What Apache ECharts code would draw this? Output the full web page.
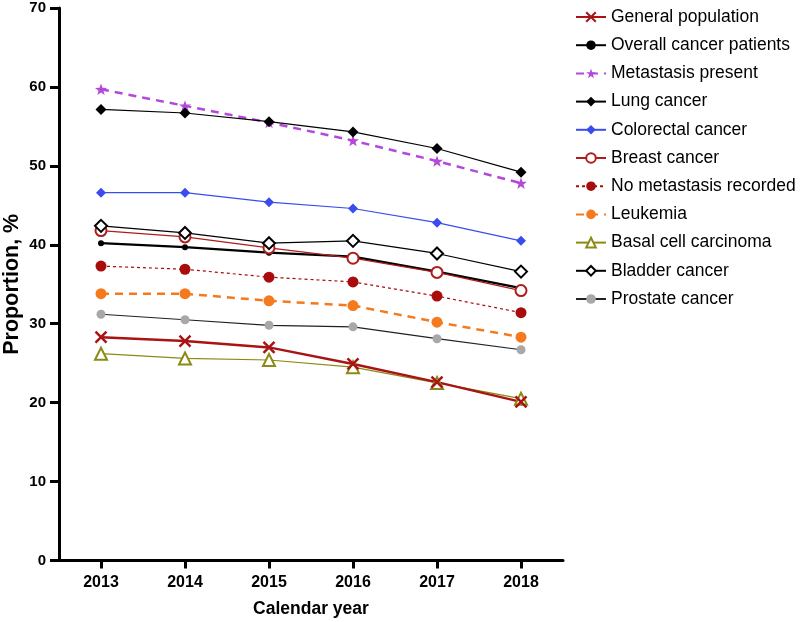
<!DOCTYPE html>
<html>
<head>
<meta charset="utf-8">
<script src="https://cdn.jsdelivr.net/npm/echarts@6/dist/echarts.min.js"></script>
<style>
  html, body { margin: 0; padding: 0; background: #fff; }
  #chart { width: 800px; height: 622px; }
</style>
</head>
<body>
<div id="chart"></div>
<script>
// years on the x axis
const years = ['2013', '2014', '2015', '2016', '2017', '2018']
const yTicks = [0, 10, 20, 30, 40, 50, 60, 70]

// proportions, %
const generalPopulation = [28.3, 27.8, 27.0, 24.9, 22.6, 20.1]
const overallCancer = [40.2, 39.7, 39.0, 38.5, 36.6, 34.5]
const metastasisPresent = [59.7, 57.6, 55.5, 53.2, 50.6, 47.8]
const lungCancer = [57.15, 56.7, 55.6, 54.3, 52.2, 49.2]
const colorectalCancer = [46.6, 46.6, 45.4, 44.6, 42.8, 40.5]
const breastCancer = [41.8, 41.0, 39.6, 38.3, 36.5, 34.2]
const noMetastasis = [37.3, 36.9, 35.9, 35.3, 33.5, 31.4]
const leukemia = [33.8, 33.8, 32.9, 32.3, 30.2, 28.3]
const basalCell = [26.2, 25.6, 25.4, 24.5, 22.5, 20.5]
const bladderCancer = [42.4, 41.5, 40.2, 40.5, 38.9, 36.6]
const prostateCancer = [31.2, 30.5, 29.8, 29.6, 28.1, 26.7]

const crossPath = 'path://M0,0L10,10M10,0L0,10'
const starPath = 'path://M5,0L6.18,3.38L9.76,3.45L6.9,5.62L7.94,9.05L5,7L2.06,9.05L3.1,5.62L0.24,3.45L3.82,3.38Z'

function line(name, vals, opt) {
  return Object.assign({
    name: name,
    type: 'line',
    data: vals,
    animation: false,
    symbolKeepAspect: true
  }, opt)
}

const chart = echarts.init(document.getElementById('chart'))

const option = {
  backgroundColor: '#fff',
  grid: { left: 59, right: 237, top: 8, bottom: 61.5, outerBoundsMode: 'none', containLabel: false },
  legend: {
    orient: 'vertical',
    left: 570,
    top: 3,
    itemWidth: 30,
    itemHeight: 12,
    itemGap: 10.2,
    textStyle: { fontFamily: 'Liberation Sans, Arial', fontSize: 17.5, color: '#000' },
    data: ['General population', 'Overall cancer patients', 'Metastasis present', 'Lung cancer',
      'Colorectal cancer', 'Breast cancer', 'No metastasis recorded', 'Leukemia',
      'Basal cell carcinoma', 'Bladder cancer', 'Prostate cancer']
  },
  xAxis: {
    type: 'category',
    data: years,
    boundaryGap: true,
    name: 'Calendar year',
    nameLocation: 'middle',
    nameGap: 40,
    nameTextStyle: { fontFamily: 'Liberation Sans, Arial', fontSize: 17.5, fontWeight: 'bold', color: '#000' },
    axisLine: { lineStyle: { color: '#000', width: 3 } },
    axisTick: { show: true, alignWithLabel: true, length: 8, lineStyle: { color: '#000', width: 3 } },
    axisLabel: {
      margin: 14,
      fontFamily: 'Liberation Sans, Arial', fontSize: 16, fontWeight: 'bold', color: '#000'
    },
    splitLine: { show: false }
  },
  yAxis: {
    type: 'value',
    min: yTicks[0],
    max: yTicks[yTicks.length - 1],
    interval: 10,
    name: 'Proportion, %',
    nameLocation: 'middle',
    nameGap: 36,
    nameMoveOverlap: false,
    nameTextStyle: { fontFamily: 'Liberation Sans, Arial', fontSize: 21.5, fontWeight: 'bold', color: '#000' },
    axisLine: { show: true, lineStyle: { color: '#000', width: 3 } },
    axisTick: { show: true, length: 9, lineStyle: { color: '#000', width: 3 } },
    axisLabel: { margin: 13, fontFamily: 'Liberation Sans, Arial', fontSize: 15, fontWeight: 'bold', color: '#000' },
    splitLine: { show: false }
  },
  series: [
    line('Basal cell carcinoma', basalCell, {
      symbol: 'emptyTriangle', symbolSize: 12,
      itemStyle: { color: '#8a8a14', borderWidth: 2.5 },
      lineStyle: { color: '#8a8a14', width: 1.2 }
    }),
    line('General population', generalPopulation, {
      symbol: crossPath, symbolSize: 11,
      itemStyle: { color: '#a81414', borderColor: '#a81414', borderWidth: 2.5 },
      lineStyle: { color: '#a81414', width: 2.5 }
    }),
    line('Prostate cancer', prostateCancer, {
      symbol: 'circle', symbolSize: 9,
      itemStyle: { color: '#a8a8a8' },
      lineStyle: { color: '#222', width: 1.2 }
    }),
    line('Leukemia', leukemia, {
      symbol: 'circle', symbolSize: 11,
      itemStyle: { color: '#f57a1e' },
      lineStyle: { color: '#f57a1e', width: 2.5, type: [8, 6] }
    }),
    line('No metastasis recorded', noMetastasis, {
      symbol: 'circle', symbolSize: 11,
      itemStyle: { color: '#a80c0c' },
      lineStyle: { color: '#a80c0c', width: 1.2, type: [3, 3] }
    }),
    line('Overall cancer patients', overallCancer, {
      symbol: 'circle', symbolSize: 6,
      itemStyle: { color: '#000' },
      lineStyle: { color: '#000', width: 2.2 }
    }),
    line('Breast cancer', breastCancer, {
      symbol: 'emptyCircle', symbolSize: 11,
      itemStyle: { color: '#b01c1c', borderWidth: 2.5 },
      lineStyle: { color: '#b01c1c', width: 1.2 }
    }),
    line('Bladder cancer', bladderCancer, {
      symbol: 'emptyDiamond', symbolSize: 12,
      itemStyle: { color: '#000', borderWidth: 2 },
      lineStyle: { color: '#000', width: 1.2 }
    }),
    line('Colorectal cancer', colorectalCancer, {
      symbol: 'diamond', symbolSize: 10,
      itemStyle: { color: '#3a4cf0' },
      lineStyle: { color: '#3a4cf0', width: 1.2 }
    }),
    line('Metastasis present', metastasisPresent, {
      symbol: starPath, symbolSize: 12,
      itemStyle: { color: '#b448dc' },
      lineStyle: { color: '#b448dc', width: 2.5, type: [8, 6] }
    }),
    line('Lung cancer', lungCancer, {
      symbol: 'diamond', symbolSize: 11,
      itemStyle: { color: '#000' },
      lineStyle: { color: '#000', width: 1.2 }
    })
  ]
}

chart.setOption(option)
</script>
</body>
</html>
